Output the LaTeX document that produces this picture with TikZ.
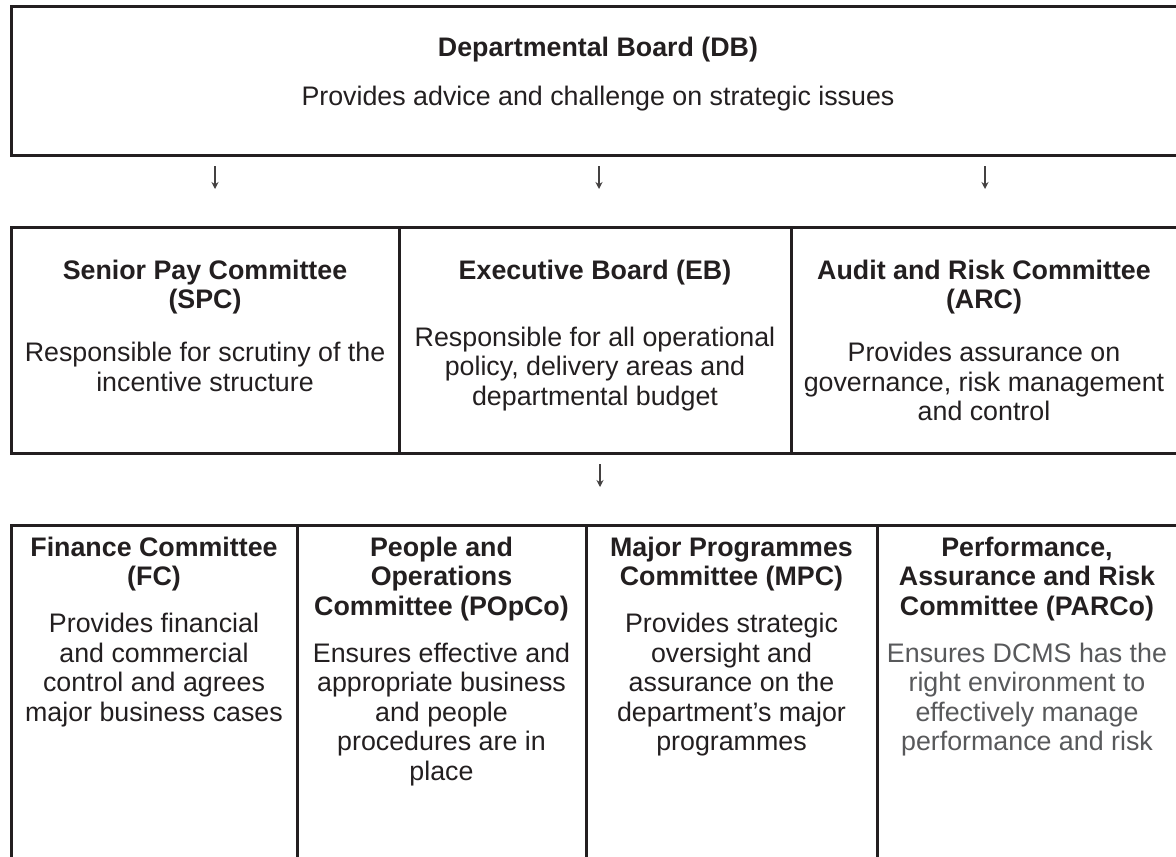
\documentclass[tikz,border=0pt]{standalone}
\usepackage{fontspec}
\setmainfont{Liberation Sans}
\usetikzlibrary{calc, arrows.meta}
\usepackage{xcolor}
\definecolor{sline}{HTML}{231F20}
\definecolor{sgrey}{HTML}{58595B}

\begin{document}
\begin{tikzpicture}[x=1pt, y=-1pt,
    CELL/.style={rectangle, draw=sline, line width=3pt, inner sep=0pt, outer sep=0pt},
    TXT/.style={anchor=base, inner sep=0pt, text=sline, font=\fontsize{26.8}{29.5}\selectfont},
    ARR/.style={draw=sline!85, line width=1.3pt, -{Stealth[length=7pt, width=7pt]}}
    ]
        \useasboundingbox (0,0) rectangle (1176,857);
        \clip (0,0) rectangle (1176,857);
        % board
        \node[CELL, minimum width=1174pt, minimum height=149pt] (DB) at (598,80.5) {};
        \node[TXT] (DBt) at ($(DB.north)+(0,50)$) {\parbox[t]{1100pt}{\centering\bfseries Departmental Board (DB)\\[19.5pt]\mdseries Provides advice and challenge on strategic issues}};
        % second row
        \node[CELL, minimum width=388pt, minimum height=226pt] (SPC) at (205,340) {};
        \node[CELL, minimum width=392pt, minimum height=226pt] (EB) at (595,340) {};
        \node[CELL, minimum width=386pt, minimum height=226pt] (ARC) at (984,340) {};
        \node[TXT] (SPCt) at ($(SPC.north)+(0,52)$) {\parbox[t]{380pt}{\centering\bfseries Senior Pay Committee\\(SPC)\\[23.5pt]\mdseries Responsible for scrutiny of the\\incentive structure}};
        \node[TXT] (EBt) at ($(EB.north)+(0,52)$) {\parbox[t]{384pt}{\centering\bfseries Executive Board (EB)\\[37.5pt]\mdseries Responsible for all operational\\policy, delivery areas and\\departmental budget}};
        \node[TXT] (ARCt) at ($(ARC.north)+(0,52)$) {\parbox[t]{380pt}{\centering\bfseries Audit and Risk Committee\\(ARC)\\[23.5pt]\mdseries Provides assurance on\\governance, risk management\\and control}};
        \draw[ARR] ($(DB.south -| SPC.north)+(10,11)$) -- ($(SPC.north)+(10,-38)$);
        \draw[ARR] ($(DB.south -| EB.north)+(4,11)$) -- ($(EB.north)+(4,-38)$);
        \draw[ARR] ($(DB.south -| ARC.north)+(1,11)$) -- ($(ARC.north)+(1,-38)$);
        % third row
        \node[CELL, minimum width=286pt, minimum height=355pt] (FC) at (154,702.5) {};
        \node[CELL, minimum width=289pt, minimum height=355pt] (POpCo) at (441.5,702.5) {};
        \node[CELL, minimum width=291pt, minimum height=355pt] (MPC) at (731.5,702.5) {};
        \node[CELL, minimum width=300pt, minimum height=355pt] (PARCo) at (1027,702.5) {};
        \draw[ARR] ($(EB.south)+(5,11)$) -- ($(EB.south |- MPC.north)+(5,-38)$);
        \node[TXT] (FCt) at ($(FC.north)+(0,31)$) {\parbox[t]{280pt}{\centering\bfseries Finance Committee\\(FC)\\[17.5pt]\mdseries Provides financial\\and commercial\\control and agrees\\major business cases}};
        \node[TXT] (POpCot) at ($(POpCo.north)+(0,31)$) {\parbox[t]{283pt}{\centering\bfseries People and\\Operations\\Committee (POpCo)\\[17.5pt]\mdseries Ensures effective and\\appropriate business\\and people\\procedures are in\\place}};
        \node[TXT] (MPCt) at ($(MPC.north)+(0,31)$) {\parbox[t]{285pt}{\centering\bfseries Major Programmes\\Committee (MPC)\\[17.5pt]\mdseries Provides strategic\\oversight and\\assurance on the\\department’s major\\programmes}};
        \node[TXT] (PARCot) at ($(PARCo.north)+(0,31)$) {\parbox[t]{290pt}{\centering\bfseries Performance,\\Assurance and Risk\\Committee (PARCo)\\[17.5pt]\mdseries\color{sgrey}Ensures DCMS has the\\right environment to\\effectively manage\\performance and risk}};
    \end{tikzpicture}
\end{document}
